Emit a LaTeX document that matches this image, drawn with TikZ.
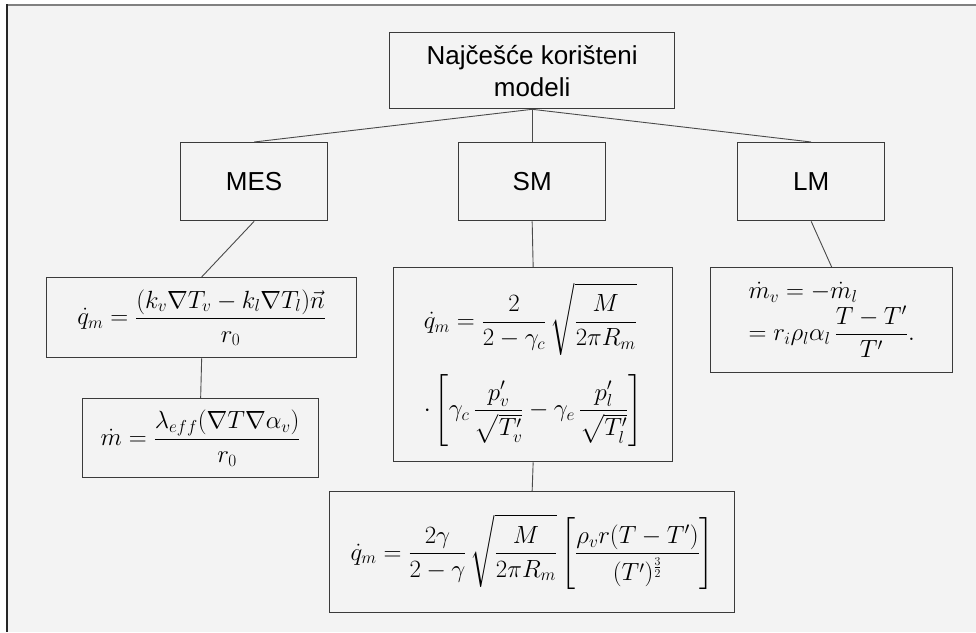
\documentclass[tikz,border=0pt]{standalone}
\usepackage{amsmath,amssymb}
\usepackage{fontspec}
\setsansfont{Liberation Sans}
\usepackage{tikz}
\usetikzlibrary{positioning}
\definecolor{panelbg}{HTML}{F3F3F3}
\definecolor{boxline}{HTML}{3A3A3A}
\definecolor{linkline}{HTML}{4A4A4A}
\begin{document}
\begin{tikzpicture}[x=1pt, y=-1pt,
  box/.style={draw=boxline, line width=1.3pt, anchor=north west, inner sep=0pt, align=center},
  lbl/.style={box, font=\sffamily\fontsize{26}{32}\selectfont},
  eqn/.style={box, font=\fontsize{24}{29}\selectfont},
  link/.style={draw=linkline, line width=0.9pt}]
\useasboundingbox (0,0) rectangle (976,632);
\fill[white] (0,0) rectangle (976,632);
\fill[panelbg] (7,5) rectangle (976,632);
\draw[black!50, line width=2pt] (7,5) -- (976,5);
\draw[black!85, line width=2pt] (7,4) -- (7,632);
\node[lbl, minimum width=285pt, minimum height=76pt] (top) at (389,32) {Najčešće korišteni\\modeli};
\node[lbl, minimum width=147pt, minimum height=78pt] (mes) at (180,142) {MES};
\node[lbl, minimum width=147pt, minimum height=78pt] (sm) at (458,142) {SM};
\node[lbl, minimum width=147pt, minimum height=78pt] (lm) at (737,142) {LM};
\draw[link] (top.south) -- (mes.north); \draw[link] (top.south) -- (sm.north); \draw[link] (top.south) -- (lm.north);
\node[eqn, minimum width=310pt, minimum height=80pt] (mes1) at (46,277) {$\displaystyle \dot q_m=\frac{(k_v\nabla T_v-k_l\nabla T_l)\vec n}{r_0}$};
\node[eqn, minimum width=236pt, minimum height=79pt] (mes2) at (82,398) {$\displaystyle \dot m=\frac{\lambda_{eff}(\nabla T\nabla\alpha_v)}{r_0}$};
\node[eqn, minimum width=279pt, minimum height=194pt, align=left] (sm1) at (393,267) {$\displaystyle \dot q_m=\frac{2}{2-\gamma_c}\,\sqrt{\frac{M}{2\pi R_m}}$\\[18pt]$\displaystyle \cdot\left[\gamma_c\,\frac{p'_v}{\sqrt{T'_v}}-\gamma_e\,\frac{p'_l}{\sqrt{T'_l}}\right]$};
\node[eqn, minimum width=405pt, minimum height=121pt] (sm2) at (329,491) {$\displaystyle \dot q_m=\frac{2\gamma}{2-\gamma}\,\sqrt{\frac{M}{2\pi R_m}}\left[\frac{\rho_v r(T-T')}{(T')^{\frac{3}{2}}}\right]$};
\node[eqn, minimum width=242pt, minimum height=105pt, align=left] (lm1) at (710,267) {$\dot m_v=-\dot m_l$\\[2pt]$\displaystyle =r_i\rho_l\alpha_l\,\frac{T-T'}{T'}.$};
\draw[link] (mes.south) -- (mes1.north); \draw[link] (mes1.south) -- (mes2.north);
\draw[link] (sm.south) -- (sm1.north); \draw[link] (sm1.south) -- (sm2.north);
\draw[link] (lm.south) -- (lm1.north);
\end{tikzpicture}
\end{document}
